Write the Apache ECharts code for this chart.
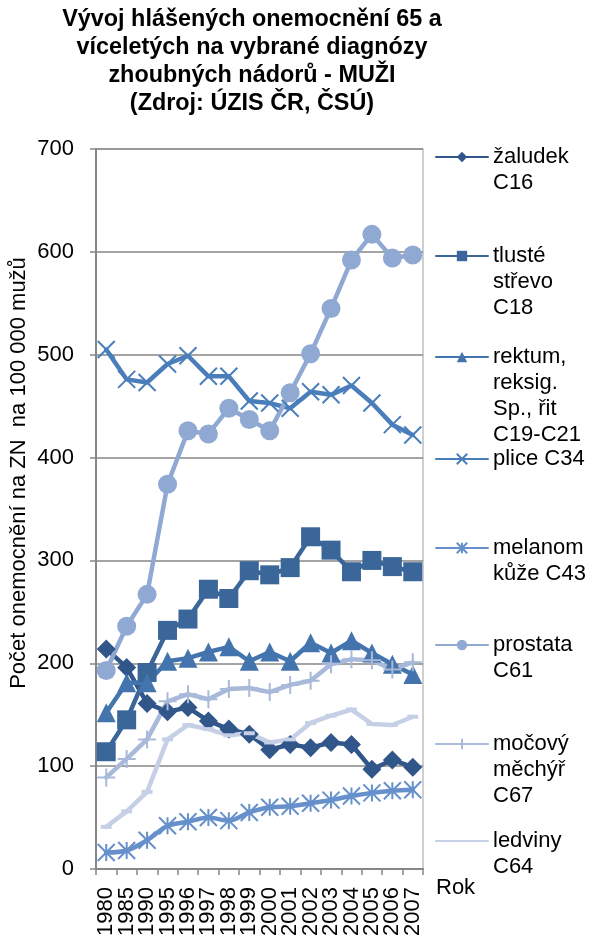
<!DOCTYPE html>
<html>
<head>
<meta charset="utf-8">
<script src="https://cdn.jsdelivr.net/npm/echarts@6/dist/echarts.min.js"></script>
<style>
  html, body { margin: 0; padding: 0; background: #ffffff; }
  #chart { width: 590px; height: 947px; }
</style>
</head>
<body>
<div id="chart"></div>
<script>
// Years on the category axis
const years = ['1980', '1985', '1990', '1995', '1996', '1997', '1998', '1999',
               '2000', '2001', '2002', '2003', '2004', '2005', '2006', '2007'];

// Reported cases per 100 000 men aged 65+, by diagnosis
const zaludek  = [214, 196, 161, 153, 157, 144, 136, 131, 116, 121, 118, 123, 121, 97, 106, 99];
const tluste   = [114, 145, 191, 232, 243, 272, 263, 290, 286, 293, 323, 310, 289, 300, 294, 289];
const rektum   = [152, 181, 181, 202, 205, 211, 216, 202, 211, 202, 220, 210, 222, 210, 199, 189];
const plice    = [505, 476, 473, 491, 499, 479, 479, 455, 453, 448, 464, 461, 470, 453, 432, 422];
const melanom  = [16, 18, 28, 42, 46, 50, 47, 55, 60, 61, 64, 67, 71, 74, 76, 77];
const prostata = [193, 236, 267, 374, 426, 423, 448, 437, 426, 463, 501, 545, 592, 617, 594, 597];
const mechyr   = [89, 107, 126, 163, 170, 165, 175, 176, 172, 179, 183, 199, 204, 203, 194, 201];
const ledviny  = [41, 56, 75, 126, 140, 136, 130, 132, 123, 126, 142, 149, 155, 141, 140, 148];

// Series names and their wrapped legend labels
const seriesNames = ['žaludek C16', 'tlusté střevo C18', 'rektum, reksig. Sp., řit C19-C21',
                     'plice C34', 'melanom kůže C43', 'prostata C61',
                     'močový měchýř C67', 'ledviny C64'];
const legendLabels = ['žaludek\nC16', 'tlusté\nstřevo\nC18', 'rektum,\nreksig.\nSp., řit\nC19-C21',
                      'plice C34', 'melanom\nkůže C43', 'prostata\nC61',
                      'močový\nměchýř\nC67', 'ledviny\nC64'];

// Y-axis ticks
const yTicks = { min: 0, max: 700, interval: 100 };

const FONT = '"Liberation Sans", Arial, sans-serif';
const colors = ['#31568A', '#3A6699', '#4374AE', '#4A7EBB', '#6590CB', '#90A9D2', '#A8B9DA', '#C5CFE6'];

// Open-stroke marker shapes
const SYM_X = 'path://M0,0L10,10M10,0L0,10';
const SYM_STAR = 'path://M0,0L10,10M10,0L0,10M5,0L5,10';
const SYM_PLUS = 'path://M5,0L5,10M0,5L10,5';

const dataSets = [zaludek, tluste, rektum, plice, melanom, prostata, mechyr, ledviny];
const symbols = ['diamond', 'rect', 'triangle', SYM_X, SYM_STAR, 'circle', SYM_PLUS, 'rect'];
const symbolSizes = [19, 19, 19, 17, 17, 19, 18, [11, 4]];
const strokeSymbols = [false, false, false, true, true, false, true, false];
// the last series' small dash marks are left out of its legend icon
const legendMarker = [true, true, true, true, true, true, true, false];

const series = dataSets.map((d, i) => ({
  name: seriesNames[i],
  type: 'line',
  data: d,
  symbol: symbols[i],
  symbolSize: symbolSizes[i],
  smooth: i === 4 ? 0.3 : false,
  color: colors[i],
  lineStyle: { width: 4.5, color: colors[i], cap: 'round', join: 'round' },
  itemStyle: strokeSymbols[i]
    ? { color: colors[i], borderColor: colors[i], borderWidth: 2 }
    : { color: colors[i], borderWidth: 0 },
  emphasis: { disabled: true },
  animation: false
}));

// Legend entries: one block per series, icon aligned with the first text line
const iconY = [157, 256, 357, 459, 548, 645, 744, 841];
const LH = 26;
const legends = seriesNames.map((name, i) => {
  const lines = legendLabels[i].split('\n').length;
  const item = legendMarker[i] ? { name: name } : { name: name, itemStyle: { opacity: 0 } };
  return {
    data: [item],
    left: 435,
    top: iconY[i] - (2 * lines - 1) * LH / 2,
    padding: 0,
    itemWidth: 52,
    itemHeight: 13,
    selectedMode: false,
    textStyle: { fontFamily: FONT, fontSize: 22, color: '#000', lineHeight: LH },
    formatter: function () {
      // leading blank lines keep the icon level with the first label line
      return '\n'.repeat(lines - 1) + legendLabels[i];
    }
  };
});

const chart = echarts.init(document.getElementById('chart'), null, { renderer: 'canvas' });
chart.setOption({
  backgroundColor: '#ffffff',
  animation: false,
  title: {
    text: 'Vývoj hlášených onemocnění 65 a\nvíceletých na vybrané diagnózy\nzhoubných nádorů - MUŽI\n(Zdroj: ÚZIS ČR, ČSÚ)',
    left: 252,
    textAlign: 'center',
    top: 6,
    padding: 0,
    textStyle: { fontFamily: FONT, fontSize: 23.4, fontWeight: 'bold', color: '#000', lineHeight: 28 }
  },
  legend: legends,
  grid: {
    left: 96, right: 167, top: 149, bottom: 78,
    show: true, borderColor: '#C0C0C0', borderWidth: 1.5, backgroundColor: 'transparent'
  },
  xAxis: {
    type: 'category',
    data: years,
    boundaryGap: true,
    name: 'Rok',
    nameLocation: 'end',
    nameGap: 13,
    nameTextStyle: { fontFamily: FONT, fontSize: 22, color: '#000', verticalAlign: 'top', padding: [8, 0, 0, 0] },
    axisLine: { lineStyle: { color: '#868686', width: 2 } },
    axisTick: { show: true, interval: 0, length: 6, lineStyle: { color: '#868686', width: 1.5 } },
    axisLabel: { interval: 0, rotate: 90, margin: 18, fontFamily: FONT, fontSize: 22, color: '#000' },
    splitLine: { show: false }
  },
  yAxis: {
    type: 'value',
    min: yTicks.min,
    max: yTicks.max,
    interval: yTicks.interval,
    axisLine: { show: true, lineStyle: { color: '#868686', width: 2 } },
    axisTick: { show: true, length: 6, lineStyle: { color: '#868686', width: 1.5 } },
    axisLabel: { margin: 22, fontFamily: FONT, fontSize: 22, color: '#000' },
    splitLine: { show: true, lineStyle: { color: '#868686', width: 1.5 } }
  },
  graphic: [{
    type: 'text',
    x: 19,
    y: 473,
    rotation: Math.PI / 2,
    style: {
      text: 'Počet onemocnění na ZN  na 100 000 mužů',
      fontFamily: FONT,
      fontSize: 22,
      fill: '#000',
      align: 'center',
      verticalAlign: 'middle'
    }
  }],
  series: series
});
</script>
</body>
</html>
